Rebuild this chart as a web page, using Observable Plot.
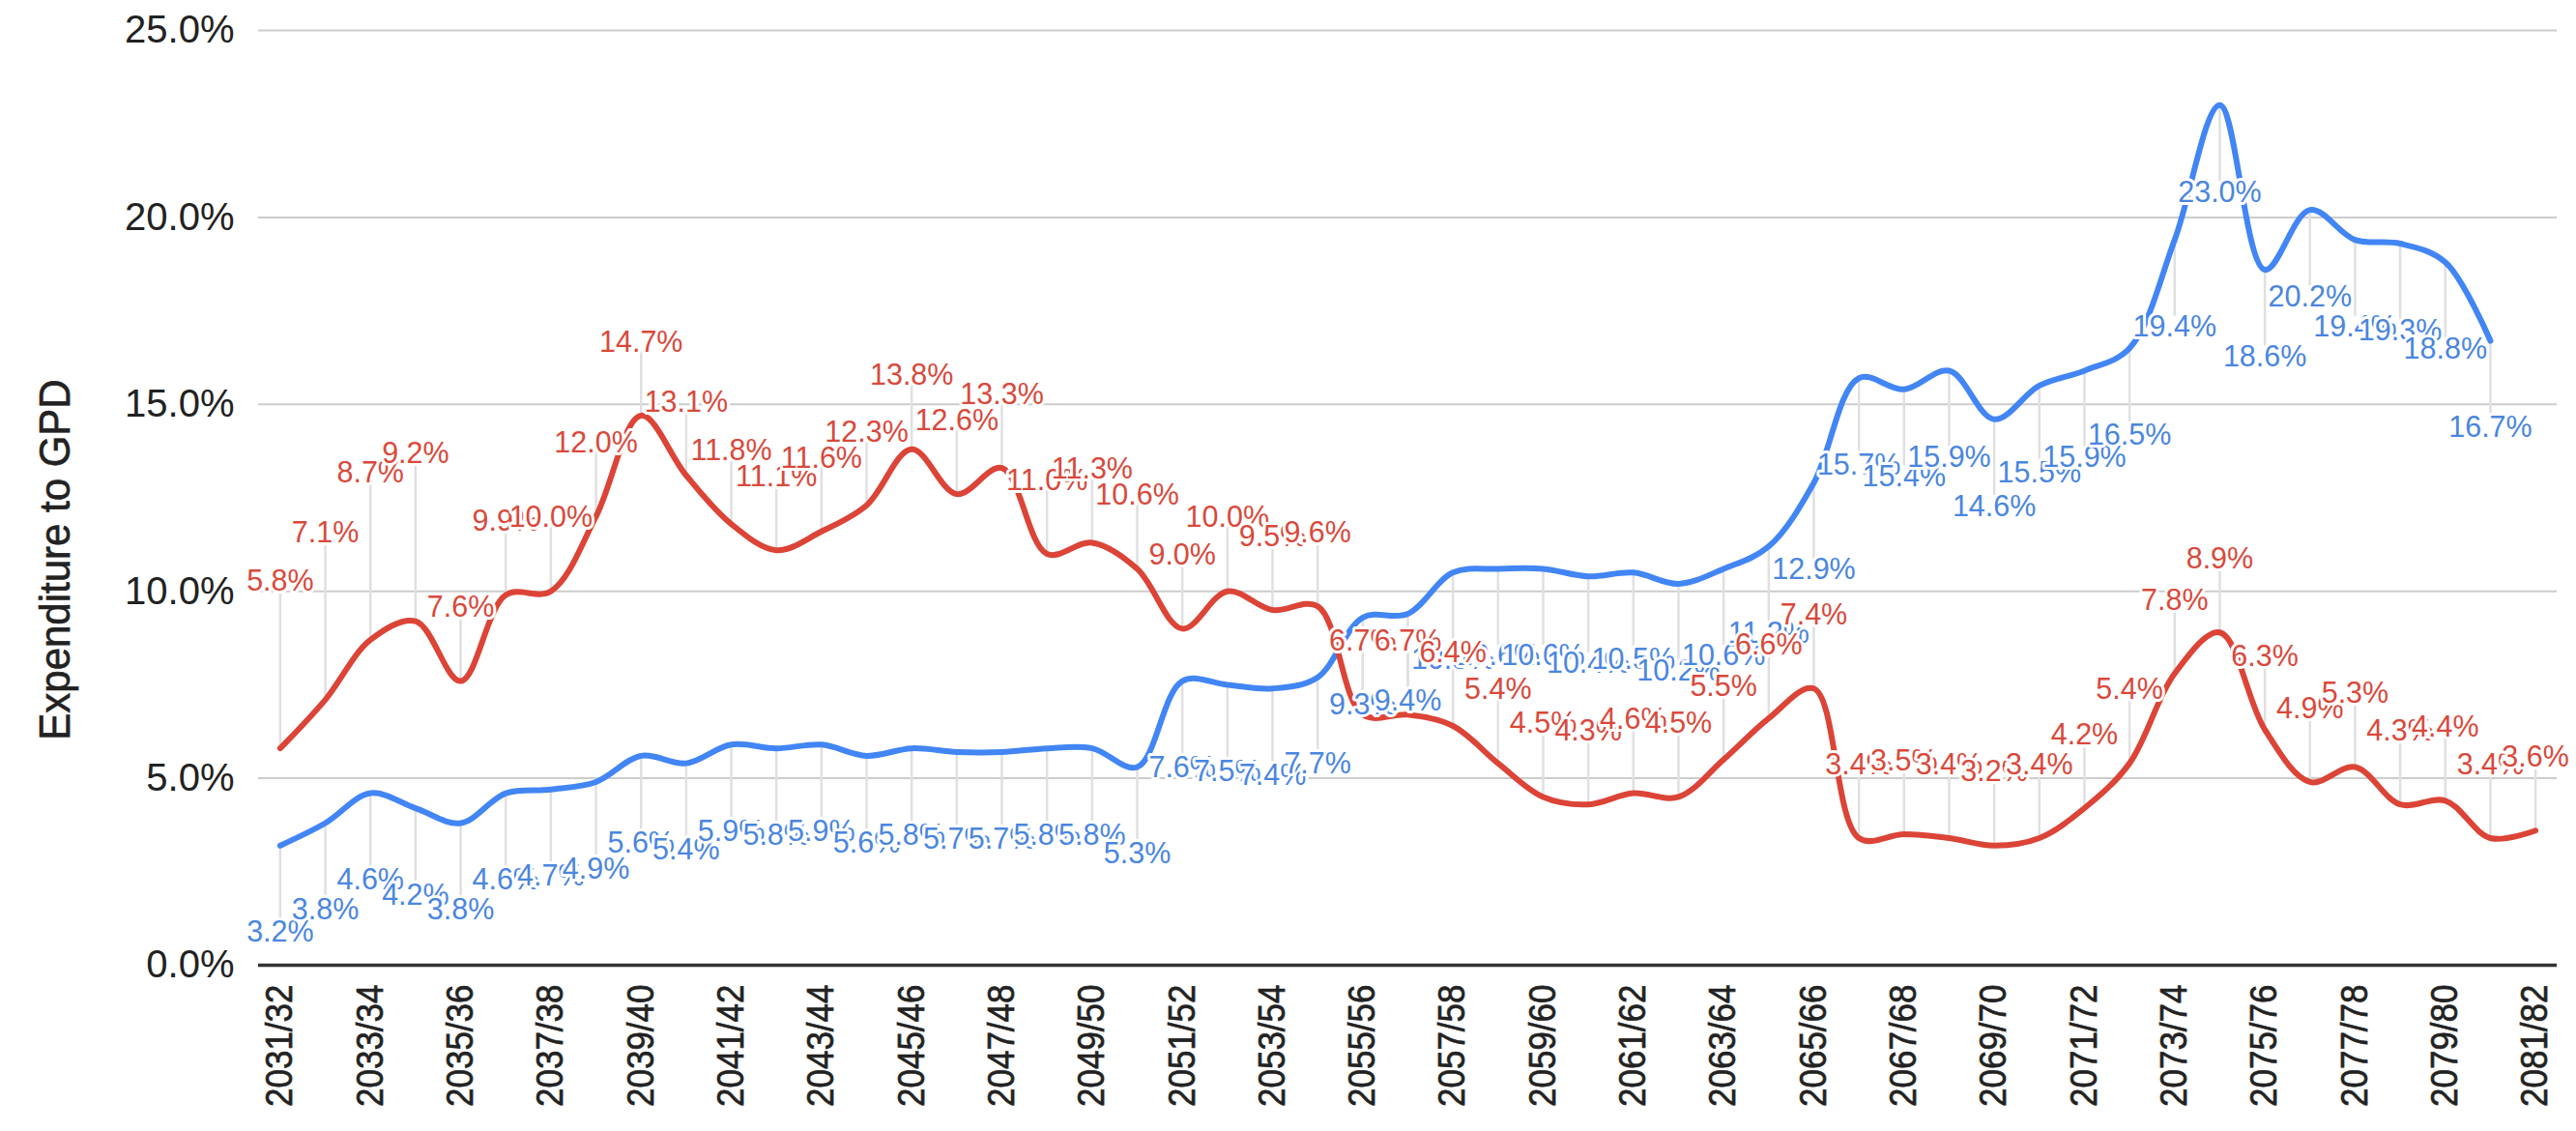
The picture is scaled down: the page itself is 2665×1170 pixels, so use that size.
<!DOCTYPE html>
<html><head><meta charset="utf-8">
<script src="https://cdn.jsdelivr.net/npm/d3@7"></script>
<script src="https://cdn.jsdelivr.net/npm/@observablehq/plot@0.6"></script>
<style>body{margin:0;background:#fff;}</style>
</head><body><div id="chart"></div>
<script>
const years = ["2031/32","2032/33","2033/34","2034/35","2035/36","2036/37","2037/38","2038/39","2039/40","2040/41",
"2041/42","2042/43","2043/44","2044/45","2045/46","2046/47","2047/48","2048/49","2049/50","2050/51",
"2051/52","2052/53","2053/54","2054/55","2055/56","2056/57","2057/58","2058/59","2059/60","2060/61",
"2061/62","2062/63","2063/64","2064/65","2065/66","2066/67","2067/68","2068/69","2069/70","2070/71",
"2071/72","2072/73","2073/74","2074/75","2075/76","2076/77","2077/78","2078/79","2079/80","2080/81","2081/82"];
const blueValues = [3.2,3.8,4.6,4.2,3.8,4.6,4.7,4.9,5.6,5.4,
5.9,5.8,5.9,5.6,5.8,5.7,5.7,5.8,5.8,5.3,
7.6,7.5,7.4,7.7,9.3,9.4,10.5,10.6,10.6,10.4,
10.5,10.2,10.6,11.2,12.9,15.7,15.4,15.9,14.6,15.5,
15.9,16.5,19.4,23.0,18.6,20.2,19.4,19.3,18.8,16.7];
const redValues = [5.8,7.1,8.7,9.2,7.6,9.9,10.0,12.0,14.7,13.1,
11.8,11.1,11.6,12.3,13.8,12.6,13.3,11.0,11.3,10.6,
9.0,10.0,9.5,9.6,6.7,6.7,6.4,5.4,4.5,4.3,
4.6,4.5,5.5,6.6,7.4,3.4,3.5,3.4,3.2,3.4,
4.2,5.4,7.8,8.9,6.3,4.9,5.3,4.3,4.4,3.4,3.6];
const yTicks = [0,5,10,15,20,25];
const xTickLabels = years.filter((d, i) => i % 2 === 0);
const yTitle = "Expenditure to GPD";

const W = 2665, H = 1170, mL = 267, mR = 20, mT = 31, mB = 172;
const pxPerUnit = (H - mT - mB) / 25;
const BLUE = "#4285F4", RED = "#DB4437";
const BLUE_TXT = "#4a86e0", RED_TXT = "#d9493b";

const blue = blueValues.map((v, i) => ({year: years[i], value: v, i}));
const red = redValues.map((v, i) => ({year: years[i], value: v, i}));
const redHigh = red.filter(d => d.i < 4);
const redLow = red.filter(d => d.i >= 4);
const fmt = d => d.value.toFixed(1) + "%";

const labelFont = "Liberation Sans";
const lbl = {fontSize: 30.5, fontFamily: labelFont, stroke: "#fff", strokeWidth: 6};
const chart = Plot.plot({
  width: W, height: H,
  marginLeft: mL, marginRight: mR, marginTop: mT, marginBottom: mB,
  style: {background: "#fff", overflow: "visible"},
  x: {type: "point", domain: years, padding: 0.48},
  y: {domain: [0, 25]},
  marks: [
    Plot.ruleY(yTicks.filter(d => d > 0), {stroke: "#cccccc", strokeWidth: 2}),
    Plot.ruleX(blue, {x: "year", y1: "value", y2: d => d.value - 79 / pxPerUnit, stroke: "#e0e0e0", strokeWidth: 2.5}),
    Plot.ruleX(redLow, {x: "year", y1: "value", y2: d => d.value + 66 / pxPerUnit, stroke: "#e0e0e0", strokeWidth: 2.5}),
    Plot.ruleX(redHigh, {x: "year", y1: "value", y2: d => d.value + 162 / pxPerUnit, stroke: "#e0e0e0", strokeWidth: 2.5}),
    Plot.ruleY([0], {stroke: "#333", strokeWidth: 3.5}),
    Plot.line(blue, {x: "year", y: "value", stroke: BLUE, strokeWidth: 6, curve: "catmull-rom"}),
    Plot.line(red, {x: "year", y: "value", stroke: RED, strokeWidth: 6, curve: "catmull-rom"}),
    Plot.text(blue, {x: "year", y: "value", text: fmt, dy: 90, fill: BLUE_TXT, ...lbl}),
    Plot.text(redLow, {x: "year", y: "value", text: fmt, dy: -76, fill: RED_TXT, ...lbl}),
    Plot.text(redHigh, {x: "year", y: "value", text: fmt, dy: -173, fill: RED_TXT, ...lbl}),
    Plot.axisY({ticks: yTicks, tickFormat: d => d.toFixed(1) + "%", tickSize: 0, tickPadding: 25, fontSize: 40, fontFamily: "Liberation Sans", label: null, color: "#222"}),
    Plot.axisX({ticks: xTickLabels, tickSize: 0, tickRotate: -90, tickPadding: 20, fontSize: 35, fontFamily: "Liberation Sans", label: null, color: "#222"}),
    Plot.text([yTitle], {frameAnchor: "left", textAnchor: "middle", rotate: -90, dx: -210, dy: 64, fontSize: 42, fontFamily: "Liberation Sans", fill: "#222"})
  ]
});
// rotated texts in the reference look slightly widened and heavier
d3.select(chart).selectAll("text").each(function() {
  const t = this.textContent;
  let k = null;
  if (/^\d{4}\/\d{2}$/.test(t)) k = 1.1;
  else if (t === yTitle) k = 1.05;
  if (k) {
    const tr = this.getAttribute("transform") || "";
    this.setAttribute("transform", tr + ` scale(1,${k})`);
    this.setAttribute("stroke", "#222");
    this.setAttribute("stroke-width", "0.6");
  }
});
document.getElementById("chart").appendChild(chart);
</script>
</body></html>
